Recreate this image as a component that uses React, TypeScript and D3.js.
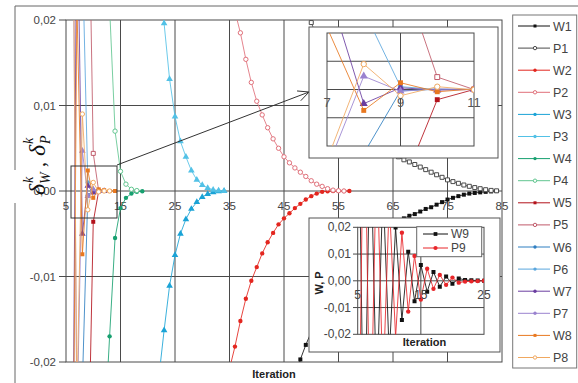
import React from "react";
import * as d3 from "d3";

// ---------- data ----------
const mainXTicks = [5, 15, 25, 35, 45, 55, 65, 75, 85];
const mainXGrid = [15, 25, 35, 45, 55, 65, 75];
const yTicks = [0.02, 0.01, 0, -0.01, -0.02];
const yTickLabels = ["0,02", "0,01", "0,00", "-0,01", "-0,02"];
const yGrid = [0.01, 0, -0.01];

const W1_start = 47;
const W1 = [-0.0225, -0.0197, -0.018, -0.0165, -0.0151, -0.0138, -0.0126, -0.0115, -0.0105, -0.0096, -0.0088, -0.008, -0.0073, -0.0066, -0.006, -0.0054, -0.0049, -0.0044, -0.004, -0.0036, -0.0032, -0.0029, -0.0027, -0.0024, -0.0021, -0.0019, -0.0016, -0.0013, -0.001, -0.0008, -0.0006, -0.00043, -0.0003, -0.00023, -0.00016, -0.0001, -0.00005, 0];
const P1_start = 49;
const P1 = [0.0215, 0.0197, 0.0181, 0.0166, 0.0152, 0.0139, 0.0127, 0.0116, 0.0106, 0.0097, 0.0088, 0.008, 0.0072, 0.0065, 0.0058, 0.0051, 0.0045, 0.004, 0.00365, 0.0034, 0.0031, 0.0028, 0.0025, 0.0022, 0.0019, 0.0016, 0.0013, 0.0011, 0.0009, 0.0007, 0.00055, 0.0004, 0.00027, 0.00015, 0.00007, 0.00002];
const W2_start = 35;
const W2 = [-0.0208, -0.0182, -0.0152, -0.0126, -0.0105, -0.0089, -0.0073, -0.006, -0.0049, -0.0039, -0.0032, -0.0026, -0.002, -0.0015, -0.001, -0.0006, -0.0003, -0.0001, -0.00003, 0, 0, 0, 0];
const P2_start = 36;
const P2 = [0.021, 0.0185, 0.0154, 0.0127, 0.0105, 0.0089, 0.0074, 0.0061, 0.005, 0.004, 0.0033, 0.0027, 0.0022, 0.0017, 0.0012, 0.0008, 0.00054, 0.00027, 0.0001, 0.00003, 0];
const W3_start = 22;
const W3 = [-0.022, -0.0163, -0.0111, -0.0075, -0.005, -0.0033, -0.0021, -0.0013, -0.0007, -0.00035, -0.00015, -0.00005, 0];
const P3_start = 22;
const P3 = [0.028, 0.0196, 0.0131, 0.0087, 0.0058, 0.004, 0.0024, 0.0013, 0.0007, 0.00035, 0.00015, 0.00005, 0];
const W4_start = 12;
const W4 = [-0.029, -0.017, -0.0055, -0.002, -0.0008, -0.0003, -0.0001, -0.00003];
const P4_start = 13;
const P4 = [0.0215, 0.007, 0.0023, 0.0008, 0.0002, 0.00005];
const W5_start = 9;
const W5 = [-0.0355, -0.0036, 0];
const P5_start = 9;
const P5 = [0.0427, 0.0044, 0];
const W6_start = 8;
const W6 = [-0.0227, -0.0005, 0.0001, 0];
const P6_start = 8;
const P6 = [0.028, 0.001, 0, 0];
const W7_start = 6;
const W7 = [-0.06, 0.037, -0.005, 0.0006, -0.0002, 0, 0];
const P7_start = 6;
const P7 = [0.06, -0.028, 0.0047, -0.0006, 0.0002, 0];
const W8_start = 6;
const W8 = [-0.06, 0.022, -0.0074, 0.0024, -0.0008, 0.0002, 0.0001, 0, 0];
const P8_start = 6;
const P8 = [0.06, -0.025, 0.009, -0.0022, 0.001, -0.0001, 0, 0];

// inset 2 data
const insetXTicks = [5, 15, 25];
const W9_start = 5;
const W9 = [0.09, -0.072, 0.058, -0.045, 0.036, -0.028, 0.0199, -0.0147, 0.0109, -0.0076, 0.0059, -0.0041, 0.0033, -0.0022, 0.0016, -0.0011, 0.0009, 0.0003, 0.0002, 0.0001, 0];
const P9_start = 5;
const P9 = [-0.1, 0.08, -0.065, 0.05, -0.04, 0.03, -0.021, 0.018, -0.0115, 0.0093, -0.007, 0.0045, -0.003, 0.0022, -0.0015, 0.0012, -0.0007, -0.0003, -0.0002, -0.0001, 0];

// inset 1 ticks
const zoomXTicks = [7, 9, 11];

type Sym = "square" | "circle" | "triangle";
interface Series { name: string; start: number; values: number[]; color: string; sym: Sym; filled: boolean; }

const series: Series[] = [
  { name: "W1", start: W1_start, values: W1, color: "#111111", sym: "square", filled: true },
  { name: "P1", start: P1_start, values: P1, color: "#4a4a4a", sym: "square", filled: false },
  { name: "W2", start: W2_start, values: W2, color: "#e3261f", sym: "circle", filled: true },
  { name: "P2", start: P2_start, values: P2, color: "#e0707a", sym: "circle", filled: false },
  { name: "W3", start: W3_start, values: W3, color: "#1aa3d6", sym: "triangle", filled: true },
  { name: "P3", start: P3_start, values: P3, color: "#52c1e6", sym: "triangle", filled: true },
  { name: "W4", start: W4_start, values: W4, color: "#17a070", sym: "circle", filled: true },
  { name: "P4", start: P4_start, values: P4, color: "#62c690", sym: "circle", filled: false },
  { name: "W5", start: W5_start, values: W5, color: "#b3121b", sym: "square", filled: true },
  { name: "P5", start: P5_start, values: P5, color: "#c05a6a", sym: "square", filled: false },
  { name: "W6", start: W6_start, values: W6, color: "#2f7fc1", sym: "circle", filled: true },
  { name: "P6", start: P6_start, values: P6, color: "#5aa6dd", sym: "circle", filled: true },
  { name: "W7", start: W7_start, values: W7, color: "#6a3da0", sym: "triangle", filled: true },
  { name: "P7", start: P7_start, values: P7, color: "#9a82cf", sym: "triangle", filled: true },
  { name: "W8", start: W8_start, values: W8, color: "#e87820", sym: "square", filled: true },
  { name: "P8", start: P8_start, values: P8, color: "#f0a860", sym: "circle", filled: false },
];

const FONT = "'Liberation Sans', Arial, sans-serif";

const symPath = (s: Sym, size: number) => {
  const t = s === "square" ? d3.symbolSquare : s === "circle" ? d3.symbolCircle : d3.symbolTriangle;
  return d3.symbol().type(t).size(size)() as string;
};
const symSize = (s: Sym) => (s === "square" ? 16 : s === "circle" ? 15 : 19);

function SeriesMarks({ sr, x, y, scale = 1 }: { sr: Series; x: d3.ScaleLinear<number, number>; y: d3.ScaleLinear<number, number>; scale?: number }) {
  const line = d3.line<number>().x((_, i) => x(sr.start + i)).y((v) => y(v));
  const p = symPath(sr.sym, symSize(sr.sym) * scale);
  return (
    <g>
      <path d={line(sr.values) as string} fill="none" stroke={sr.color} strokeWidth={1} strokeOpacity={0.85} />
      {sr.values.map((v, i) => (
        <path key={i} d={p} transform={`translate(${x(sr.start + i)},${y(v)})`}
          fill={sr.filled ? sr.color : "#fff"} stroke={sr.color} strokeWidth={sr.filled ? 0 : 1} />
      ))}
    </g>
  );
}

export default function App() {
  // main scales
  const x = d3.scaleLinear().domain([5, 85]).range([66, 502]);
  const y = d3.scaleLinear().domain([-0.02, 0.02]).range([362, 20]);
  // inset 1 (zoom)
  const zx = d3.scaleLinear().domain([7, 11]).range([327, 474]);
  const zy = d3.scaleLinear().domain([-0.02, 0.02]).range([146, 33]);
  // inset 2
  const ix = d3.scaleLinear().domain([5, 25]).range([357.7, 484]);
  const iy = d3.scaleLinear().domain([-0.02, 0.02]).range([334.3, 227.3]);

  const grid = "#4a4a4a";
  const txt = "#444";

  // arrow
  const ax0 = 117, ay0 = 165, ax1 = 309, ay1 = 92;
  const ang = Math.atan2(ay1 - ay0, ax1 - ax0);
  const al = 12, aw = 0.45;
  const a1 = [ax1 - al * Math.cos(ang - aw), ay1 - al * Math.sin(ang - aw)];
  const a2 = [ax1 - al * Math.cos(ang + aw), ay1 - al * Math.sin(ang + aw)];

  const w9s: Series = { name: "W9", start: W9_start, values: W9, color: "#111", sym: "square", filled: true };
  const p9s: Series = { name: "P9", start: P9_start, values: P9, color: "#e8262a", sym: "circle", filled: true };

  return (
    <svg width={578} height={383} style={{ position: "absolute", left: 0, top: 0, background: "#fff" }} fontFamily={FONT}>
      <defs>
        <clipPath id="mainClip"><rect x={66} y={20} width={436} height={342} /></clipPath>
        <clipPath id="zoomClip"><rect x={327} y={33} width={147} height={113} /></clipPath>
        <clipPath id="insClip"><rect x={357.7} y={227.3} width={126.3} height={107} /></clipPath>
      </defs>
      <rect x={0} y={0} width={578} height={383} fill="#fff" />
      {/* outer frame */}
      <line x1={15} y1={6} x2={578} y2={6} stroke="#666" strokeWidth={1} />
      <line x1={15} y1={6} x2={15} y2={170} stroke="#666" strokeWidth={1} />
      <line x1={15} y1={203} x2={15} y2={383} stroke="#666" strokeWidth={1} />

      {/* main grid */}
      {mainXGrid.map((t) => (
        <line key={"gx" + t} x1={x(t)} x2={x(t)} y1={20} y2={362} stroke={grid} strokeWidth={1} />
      ))}
      {yGrid.map((t) => (
        <line key={"gy" + t} x1={66} x2={502} y1={y(t)} y2={y(t)} stroke={grid} strokeWidth={1} />
      ))}
      <rect x={66} y={20} width={436} height={342} fill="none" stroke={grid} strokeWidth={1} />
      {yTicks.map((t, i) => (
        <g key={"yt" + i}>
          <line x1={59} x2={66} y1={y(t)} y2={y(t)} stroke={grid} />
          <text x={56} y={y(t) + 4} textAnchor="end" fontSize={11.5} fill={txt}>{yTickLabels[i]}</text>
        </g>
      ))}
      {mainXTicks.map((t) => (
        <text key={"xt" + t} x={x(t)} y={210} textAnchor="middle" fontSize={11.5} fill={txt}>{t}</text>
      ))}

      {/* series */}
      <g clipPath="url(#mainClip)">
        {series.map((sr) => <SeriesMarks key={sr.name} sr={sr} x={x} y={y} />)}
      </g>

      {/* axis titles */}
      <text x={274} y={378} textAnchor="middle" fontSize={11} fontWeight="bold" fill="#222">Iteration</text>
      <g transform="translate(45,152) rotate(-90)" fontFamily="'Liberation Serif', 'Times New Roman', serif" fontStyle="italic" fill="#111">
        <text x={-43} y={0} fontSize={24}>δ</text>
        <text x={-31} y={-12} fontSize={14}>k</text>
        <text x={-32} y={5} fontSize={14}>W</text>
        <text x={-15} y={0} fontSize={20} fontStyle="normal">,</text>
        <text x={-4} y={0} fontSize={24}>δ</text>
        <text x={8} y={-12} fontSize={14}>k</text>
        <text x={8} y={5} fontSize={14}>P</text>
      </g>

      {/* zoom rect and arrow */}
      <rect x={71} y={166} width={46} height={52} fill="none" stroke="#333" strokeWidth={1} />
      <line x1={ax0} y1={ay0} x2={ax1} y2={ay1} stroke="#333" strokeWidth={1} />
      <polyline points={`${a1[0]},${a1[1]} ${ax1},${ay1} ${a2[0]},${a2[1]}`} fill="none" stroke="#333" strokeWidth={1} />

      {/* inset 1 */}
      <rect x={309} y={27} width={189} height={131} fill="#fff" stroke="#555" strokeWidth={1} />
      {[0.01, 0, -0.01].map((t) => (
        <line key={"zg" + t} x1={327} x2={474} y1={zy(t)} y2={zy(t)} stroke={grid} />
      ))}
      <line x1={zx(9)} x2={zx(9)} y1={33} y2={146} stroke={grid} />
      <rect x={327} y={33} width={147} height={113} fill="none" stroke={grid} />
      <g clipPath="url(#zoomClip)">
        {series.map((sr) => <SeriesMarks key={"z" + sr.name} sr={sr} x={zx} y={zy} scale={1.5} />)}
      </g>
      {zoomXTicks.map((t) => (
        <text key={"zt" + t} x={zx(t)} y={107} textAnchor="middle" fontSize={13} fill="#555">{t}</text>
      ))}

      {/* inset 2 */}
      <rect x={309} y={218} width={191} height={134} fill="#fff" stroke="#555" strokeWidth={1} />
      {[0.01, 0, -0.01].map((t) => (
        <line key={"ig" + t} x1={357.7} x2={484} y1={iy(t)} y2={iy(t)} stroke={grid} />
      ))}
      <line x1={ix(15)} x2={ix(15)} y1={227.3} y2={334.3} stroke={grid} />
      <rect x={357.7} y={227.3} width={126.3} height={107} fill="none" stroke={grid} />
      {yTicks.map((t, i) => (
        <g key={"iyt" + i}>
          <line x1={353} x2={357.7} y1={iy(t)} y2={iy(t)} stroke={grid} />
          <text x={351} y={iy(t) + 4} textAnchor="end" fontSize={12} fill={txt}>{yTickLabels[i]}</text>
        </g>
      ))}
      <g clipPath="url(#insClip)">
        <SeriesMarks sr={w9s} x={ix} y={iy} />
        <SeriesMarks sr={p9s} x={ix} y={iy} />
      </g>
      {insetXTicks.map((t) => (
        <text key={"ixt" + t} x={ix(t)} y={299} textAnchor="middle" fontSize={12} fill={txt}>{t}</text>
      ))}
      <text x={424.5} y={346} textAnchor="middle" fontSize={11} fontWeight="bold" fill="#222">Iteration</text>
      <text transform="translate(323,283) rotate(-90)" textAnchor="middle" fontSize={11} fontWeight="bold" fill="#222">W, P</text>
      {/* inset 2 legend */}
      <rect x={416.7} y={226.7} width={65} height={30} fill="#fff" stroke="#666" />
      {[w9s, p9s].map((sr, i) => {
        const ly = 234 + i * 14;
        return (
          <g key={"il" + sr.name}>
            <line x1={423} x2={448} y1={ly} y2={ly} stroke={sr.color} />
            <path d={symPath(sr.sym, 14)} transform={`translate(435.5,${ly})`} fill={sr.color} />
            <text x={451} y={ly + 4} fontSize={12} fill="#444">{sr.name}</text>
          </g>
        );
      })}

      {/* main legend */}
      <rect x={512.7} y={15} width={64} height={353} fill="#fff" stroke="#777" />
      {series.map((sr, i) => {
        const ly = 26 + i * 22.1;
        return (
          <g key={"lg" + sr.name}>
            <line x1={518} x2={550} y1={ly} y2={ly} stroke={sr.color} />
            <path d={symPath(sr.sym === "square" && sr.filled ? "square" : "circle", 9)} transform={`translate(535,${ly})`}
              fill={sr.filled ? sr.color : "#fff"} stroke={sr.color} strokeWidth={sr.filled ? 0 : 1} />
            <text x={553} y={ly + 4.5} fontSize={12.5} fill="#444">{sr.name}</text>
          </g>
        );
      })}
    </svg>
  );
}
